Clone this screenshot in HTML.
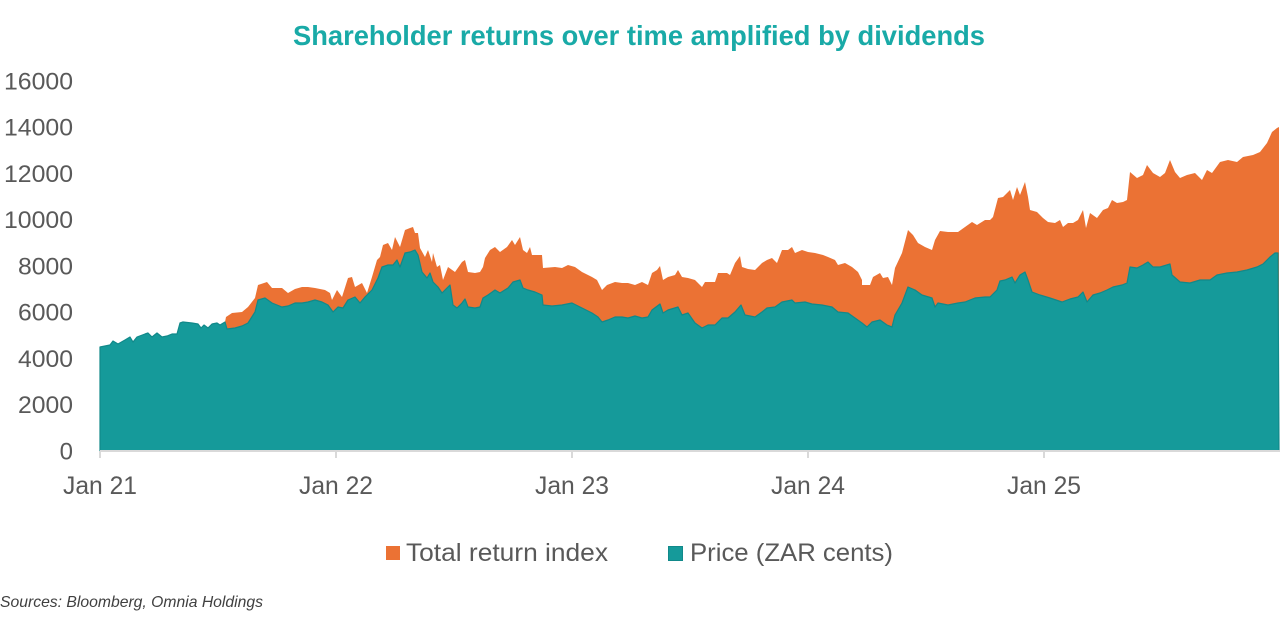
<!DOCTYPE html>
<html>
<head>
<meta charset="utf-8">
<style>
  html, body { margin: 0; padding: 0; background: #ffffff; }
  svg { display: block; }
  text { font-family: "Liberation Sans", Arial, sans-serif; }
</style>
</head>
<body>
<svg width="1280" height="629" viewBox="0 0 1280 629" xmlns="http://www.w3.org/2000/svg">
  <rect width="1280" height="629" fill="#ffffff"/>

  <!-- Title -->
  <text x="293" y="45" font-size="28" font-weight="bold" fill="#19aaa7" textLength="692" lengthAdjust="spacingAndGlyphs">Shareholder returns over time amplified by dividends</text>

  <!-- Y axis labels -->
  <g font-size="24" fill="#595959" text-anchor="end">
    <text x="73" y="89.5" textLength="69" lengthAdjust="spacingAndGlyphs">16000</text>
    <text x="73" y="135.5" textLength="69" lengthAdjust="spacingAndGlyphs">14000</text>
    <text x="73" y="182" textLength="69" lengthAdjust="spacingAndGlyphs">12000</text>
    <text x="73" y="228" textLength="69" lengthAdjust="spacingAndGlyphs">10000</text>
    <text x="73" y="274.5" textLength="55" lengthAdjust="spacingAndGlyphs">8000</text>
    <text x="73" y="320.5" textLength="55" lengthAdjust="spacingAndGlyphs">6000</text>
    <text x="73" y="367" textLength="55" lengthAdjust="spacingAndGlyphs">4000</text>
    <text x="73" y="413" textLength="55" lengthAdjust="spacingAndGlyphs">2000</text>
    <text x="73" y="459.5">0</text>
  </g>

  <!-- Total return index (orange) -->
  <polygon fill="#eb7234" points="100,451 100,347 110,345 113,341 118,344 125,340 130,337 133,342 137,337 145,334 148,333 152,337 157,333 162,337 167,336 172,334 177,334 180,323 183,322 192,323 198,324 201,328 204,325 208,328 212,324 217,323 220,325 225,322 226,317 232,313 242,312 248,307 255,298 258,285 267,282 272,288 282,288 288,293 295,289 302,287 308,287 315,288 325,290 330,293 332,300 337,290 342,297 348,278 352,277 355,287 362,283 367,293 372,277 377,260 380,257 383,245 388,243 392,250 395,237 400,247 405,230 410,228 413,227 415,233 418,233 420,248 425,257 428,250 432,262 433,253 437,267 440,265 443,280 448,267 455,272 462,262 465,260 468,272 475,273 480,272 483,267 485,258 490,250 495,247 500,252 507,247 512,240 515,245 520,237 523,250 527,253 530,247 532,255 542,255 543,268 555,267 562,268 568,265 575,267 582,272 592,277 597,280 602,290 607,285 615,282 622,283 628,283 635,285 642,282 648,285 652,273 657,270 660,266 663,280 668,277 675,275 678,270 682,277 688,278 695,280 702,287 705,282 715,282 718,273 727,273 730,275 735,263 740,256 742,267 748,269 755,270 762,263 767,260 772,258 777,263 782,250 788,250 792,247 795,253 802,250 808,252 815,253 823,255 828,257 835,260 838,265 845,263 852,267 858,272 862,280 862,285 870,285 873,277 880,273 883,278 888,277 892,285 895,268 902,253 908,230 913,235 918,243 925,247 932,250 935,240 940,231 948,232 958,232 965,227 972,222 977,225 985,220 990,220 993,217 998,198 1003,197 1010,190 1013,200 1017,187 1020,195 1025,182 1028,197 1030,210 1037,212 1043,218 1048,222 1055,223 1060,220 1063,227 1068,223 1073,223 1078,220 1083,210 1086,228 1090,213 1097,218 1103,210 1108,208 1112,200 1117,203 1123,202 1127,200 1130,172 1137,178 1143,175 1147,165 1153,173 1160,177 1165,173 1170,160 1175,172 1180,178 1187,175 1195,173 1202,180 1207,170 1212,173 1220,162 1228,160 1237,162 1243,157 1253,155 1260,152 1267,143 1272,132 1277,128 1279,127 1279,451"/>

  <!-- Price (teal) -->
  <polygon fill="#159a9a" stroke="#11898a" stroke-width="1.2" stroke-linejoin="round" points="100,451 100,347 110,345 113,341 118,344 125,340 130,337 133,342 137,337 145,334 148,333 152,337 157,333 162,337 167,336 172,334 177,334 180,323 183,322 192,323 198,324 201,328 204,325 208,328 212,324 217,323 220,325 225,322 227,329 235,328 242,326 248,323 255,312 258,300 265,298 272,303 282,307 288,306 295,303 302,303 308,302 315,300 322,302 328,305 333,312 338,307 343,308 348,300 355,297 360,303 365,297 372,290 378,278 382,267 388,265 393,265 397,260 400,267 405,253 410,252 415,250 418,255 422,272 427,278 430,273 433,282 438,287 442,293 447,288 450,285 453,305 457,308 462,303 465,299 468,307 475,308 480,307 483,298 488,295 495,290 500,293 508,288 513,282 520,280 523,288 528,290 535,292 542,295 543,305 552,306 562,305 572,303 582,308 592,313 598,317 602,322 608,320 615,317 622,317 628,318 635,316 642,318 648,317 652,310 660,304 663,313 668,310 678,307 682,315 688,313 695,323 702,328 708,325 715,325 722,318 728,318 735,312 741,305 745,315 755,317 762,312 767,308 775,307 782,302 792,300 795,303 805,302 812,304 822,305 832,307 838,312 848,313 855,318 862,323 867,327 872,322 880,320 887,325 892,327 895,315 902,303 908,287 915,290 922,295 932,298 935,307 938,303 948,305 958,303 965,302 975,298 985,297 990,297 997,290 1000,281 1005,280 1012,277 1015,283 1020,275 1025,272 1028,280 1032,292 1040,295 1050,298 1062,302 1070,299 1078,297 1083,292 1087,302 1093,295 1100,293 1107,290 1113,287 1122,285 1127,283 1130,267 1137,268 1143,265 1148,262 1153,267 1160,267 1170,264 1172,275 1180,282 1190,283 1200,280 1210,280 1217,275 1227,273 1237,272 1247,270 1257,267 1263,264 1270,257 1275,253 1278,253 1279,451"/>

  <!-- X axis -->
  <line x1="100" y1="451" x2="1280" y2="451" stroke="#d9d9d9" stroke-width="2"/>
  <g stroke="#d9d9d9" stroke-width="2">
    <line x1="100" y1="451" x2="100" y2="458"/>
    <line x1="336" y1="451" x2="336" y2="458"/>
    <line x1="572" y1="451" x2="572" y2="458"/>
    <line x1="808" y1="451" x2="808" y2="458"/>
    <line x1="1044" y1="451" x2="1044" y2="458"/>
  </g>

  <!-- X labels -->
  <g font-size="25" fill="#595959" text-anchor="middle">
    <text x="100" y="494" textLength="74" lengthAdjust="spacingAndGlyphs">Jan 21</text>
    <text x="336" y="494" textLength="74" lengthAdjust="spacingAndGlyphs">Jan 22</text>
    <text x="572" y="494" textLength="74" lengthAdjust="spacingAndGlyphs">Jan 23</text>
    <text x="808" y="494" textLength="74" lengthAdjust="spacingAndGlyphs">Jan 24</text>
    <text x="1044" y="494" textLength="74" lengthAdjust="spacingAndGlyphs">Jan 25</text>
  </g>

  <!-- Legend -->
  <rect x="386" y="546" width="14" height="14" fill="#eb7234"/>
  <text x="406" y="561" font-size="25" fill="#595959" textLength="202" lengthAdjust="spacingAndGlyphs">Total return index</text>
  <rect x="668.5" y="546.5" width="14" height="14" fill="#159a9a" stroke="#11898a" stroke-width="1"/>
  <text x="690" y="561" font-size="25" fill="#595959" textLength="203" lengthAdjust="spacingAndGlyphs">Price (ZAR cents)</text>

  <!-- Sources -->
  <text x="0" y="607" font-size="16" font-style="italic" fill="#404040" textLength="263" lengthAdjust="spacingAndGlyphs">Sources: Bloomberg, Omnia Holdings</text>
</svg>
</body>
</html>
